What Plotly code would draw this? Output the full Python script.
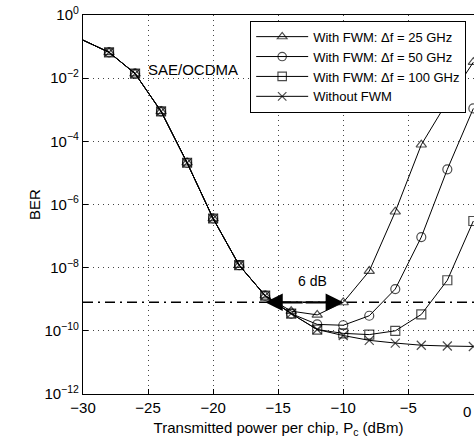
import math
import plotly.graph_objects as go

# Transmitted power per chip (dBm)
power_dbm = [-30, -28, -26, -24, -22, -20, -18, -16, -14, -12, -10, -8, -6, -4, -2, 0]

# Shared SAE/OCDMA part of the curves (-30 ... -16 dBm)
ber_common = [1.6e-1, 6.6e-2, 1.4e-2, 8.9e-4, 2.1e-5, 3.6e-7, 1.2e-8, 1.3e-9]

# Tails (-14 ... 0 dBm) for each case
ber_fwm_25 = [4.2e-10, 3.2e-10, 7.9e-10, 7.8e-9, 5.9e-7, 7.8e-5, 1.8e-3, 3.2e-2]
ber_fwm_50 = [3.5e-10, 1.6e-10, 1.5e-10, 3.0e-10, 2.1e-9, 9.3e-8, 1.3e-5, 1.1e-3]
ber_fwm_100 = [3.5e-10, 1.1e-10, 8.3e-11, 7.6e-11, 1.0e-10, 3.3e-10, 4.0e-9, 3.0e-7]
ber_no_fwm = [3.5e-10, 1.1e-10, 7.1e-11, 5.0e-11, 4.1e-11, 3.5e-11, 3.3e-11, 3.2e-11]

series_names = [
    "With FWM: \u0394f = 25 GHz",
    "With FWM: \u0394f = 50 GHz",
    "With FWM: \u0394f = 100 GHz",
    "Without FWM",
]
series_tails = [ber_fwm_25, ber_fwm_50, ber_fwm_100, ber_no_fwm]
series_symbols = ["triangle-up-open", "circle-open", "square-open", "x-thin-open"]

ber_threshold = 8e-10          # reference BER level (dash-dot line)
gap_start_dbm = -16            # power penalty arrow
gap_db = 6

y_tick_exps = [0, -2, -4, -6, -8, -10, -12]
x_ticks = [-30, -25, -20, -15, -10, -5, 0]

FONT = "Liberation Sans, Arial, Helvetica, sans-serif"

fig = go.Figure()

for name, tail, sym in zip(series_names, series_tails, series_symbols):
    ys = ber_common + tail
    sizes = [0] + [9] * (len(power_dbm) - 1)
    fig.add_trace(go.Scatter(
        x=power_dbm, y=ys, name=name, mode="lines+markers",
        line=dict(color="black", width=1),
        marker=dict(symbol=sym, size=sizes, color="black",
                    line=dict(color="black", width=1.2)),
    ))

# Reference BER level
fig.add_trace(go.Scatter(
    x=[-30, 0.05], y=[ber_threshold, ber_threshold], mode="lines",
    line=dict(color="black", width=1.6, dash="10px,5px,2px,5px"),
    showlegend=False, hoverinfo="skip",
))

# Double-headed arrow spanning the power gap (log axis: annotation y in log10)
ly = math.log10(ber_threshold)
mid = gap_start_dbm + gap_db / 2
for head in (gap_start_dbm, gap_start_dbm + gap_db):
    fig.add_annotation(
        x=head, y=ly, ax=mid, ay=ly, xref="x", yref="y", axref="x", ayref="y",
        showarrow=True, arrowhead=2, arrowsize=1.6, arrowwidth=2.2,
        arrowcolor="black", text="",
    )

fig.add_annotation(x=mid + 0.6, y=ly + 0.68, text=f"{gap_db} dB", showarrow=False,
                   xref="x", yref="y", font=dict(size=14, color="black"))
fig.add_annotation(x=-25.15, y=-1.74, text="SAE/OCDMA", showarrow=False,
                   xref="x", yref="y", xanchor="left",
                   font=dict(size=15, color="black"))
# Label of the last x tick, which sits on the right edge of the figure
fig.add_annotation(x=x_ticks[-1], y=-0.047, xref="x", yref="paper",
                   text=str(x_ticks[-1]), showarrow=False,
                   xanchor="right", yanchor="middle",
                   font=dict(size=15, color="black"))

grid = dict(showgrid=True, gridcolor="#444", gridwidth=1, griddash="1px,4px")

fig.update_xaxes(
    range=[-30, 0.05], tickvals=x_ticks[:-1], ticks="inside", ticklen=5,
    tickcolor="black", showline=True, linecolor="black", linewidth=1.2,
    mirror=True, zeroline=False,
    title=dict(text="Transmitted power per chip, P<sub>c</sub> (dBm)",
               font=dict(size=15, color="black"), standoff=7),
    tickfont=dict(size=15, color="black"), **grid,
)
fig.update_yaxes(
    type="log", range=[-12, 0],
    tickvals=[10.0 ** e for e in y_tick_exps],
    ticktext=[f"10<sup>{str(e).replace('-', '\u2212')}</sup>" for e in y_tick_exps],
    ticks="inside", ticklen=5, tickcolor="black",
    showline=True, linecolor="black", linewidth=1.2, mirror=False,
    zeroline=False,
    title=dict(text="BER", font=dict(size=15, color="black"), standoff=0),
    tickfont=dict(size=15, color="black"), **grid,
)

fig.update_layout(
    width=474, height=446,
    margin=dict(l=83, r=0, t=15, b=52),
    plot_bgcolor="white", paper_bgcolor="white",
    font=dict(family=FONT, color="black"),
    legend=dict(
        x=0.98, y=0.985, xanchor="right", yanchor="top",
        bgcolor="white", bordercolor="black", borderwidth=1,
        font=dict(size=13, color="black"), tracegroupgap=0, itemwidth=52,
    ),
)

fig.write_html("out.html")
